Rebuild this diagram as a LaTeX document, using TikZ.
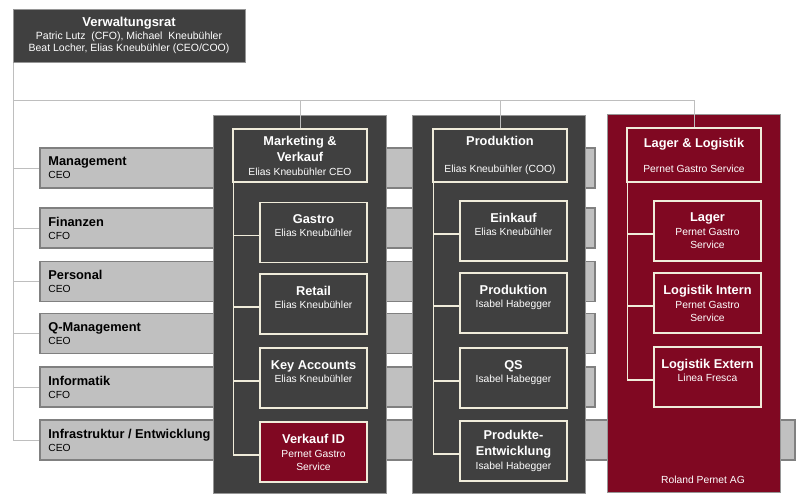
\documentclass[tikz,border=0pt]{standalone}
\usepackage{fontspec}
\setmainfont{Liberation Sans}
\definecolor{darkbox}{RGB}{64,64,64}
\definecolor{redbox}{RGB}{128,8,34}
\definecolor{cream}{RGB}{240,236,218}
\definecolor{barfill}{RGB}{192,192,192}
\definecolor{barline}{RGB}{128,128,128}
\definecolor{colline}{RGB}{150,150,150}
\definecolor{conn}{RGB}{190,190,190}
\newcommand\ttl[1]{{\fontsize{12.8}{15}\selectfont\bfseries #1}}
\begin{document}
\begin{tikzpicture}[x=1pt,y=-1pt,
 bar/.style={draw=barline, fill=barfill, line width=1.6pt, minimum height=40pt, inner sep=0pt},
 bartext/.style={anchor=west, align=left, inner sep=0pt, font=\fontsize{10.3}{13}\selectfont, text=black},
 column/.style={draw=colline, line width=1pt, inner sep=0pt},
 darkcol/.style={column, fill=darkbox},
 redcol/.style={column, fill=redbox},
 orgbox/.style={draw=cream, line width=1.6pt, inner sep=0pt, align=center, text=white, font=\fontsize{10.3}{13}\selectfont},
 head/.style={orgbox, fill=darkbox, minimum width=134pt, minimum height=53pt},
 sub/.style={orgbox, fill=darkbox, minimum width=107pt, minimum height=60pt},
 redhead/.style={head, fill=redbox},
 redsub/.style={sub, fill=redbox},
 connline/.style={draw=conn, line width=1pt},
 tree/.style={draw=cream, line width=1.4pt}
]
\useasboundingbox (0,0) rectangle (800,499);

% board
\node[fill=darkbox, draw=colline, line width=1pt, minimum width=232pt, minimum height=53pt, inner sep=0pt,
      align=center, text=white, font=\fontsize{10.5}{12.5}\selectfont] (vr) at (129,35.5)
 {{\fontsize{13}{15}\selectfont\bfseries Verwaltungsrat}\\Patric Lutz~ (CFO), Michael~ Kneubühler\\Beat Locher, Elias Kneubühler (CEO/COO)};

% staff bars
\node[bar, minimum width=555pt] (mgmt) at (317.5,168) {};
\node[bar, minimum width=555pt] (fin) at (317.5,228) {};
\node[bar, minimum width=555pt] (pers) at (317.5,281.5) {};
\node[bar, minimum width=555pt] (qm) at (317.5,333.5) {};
\node[bar, minimum width=555pt] (info) at (317.5,387) {};
\node[bar, minimum width=755pt] (infra) at (417.5,440) {};
\node[bartext] (mgmtL) at ([xshift=9pt]mgmt.west) {\ttl{Management}\\CEO};
\node[bartext] (finL) at ([xshift=9pt]fin.west) {\ttl{Finanzen}\\CFO};
\node[bartext] (persL) at ([xshift=9pt]pers.west) {\ttl{Personal}\\CEO};
\node[bartext] (qmL) at ([xshift=9pt]qm.west) {\ttl{Q-Management}\\CEO};
\node[bartext] (infoL) at ([xshift=9pt]info.west) {\ttl{Informatik}\\CFO};
\node[bartext] (infraL) at ([xshift=9pt]infra.west) {\ttl{Infrastruktur / Entwicklung}\\CEO};

% columns
\node[darkcol, minimum width=173pt, minimum height=378pt] (colmk) at (299.5,304) {};
\node[darkcol, minimum width=173pt, minimum height=378pt] (colpr) at (498.5,304) {};
\node[redcol, minimum width=173pt, minimum height=378pt] (collg) at (693.5,303) {};

% Marketing column
\node[head] (mk) at (300,155.5) {\ttl{Marketing \&}\\[3pt]\ttl{Verkauf}\\[1pt]Elias Kneubühler CEO};
\node[sub] (gastro) at (313.5,232.5) {\ttl{Gastro}\\Elias Kneubühler\\\mbox{}};
\node[sub] (retail) at (313.5,304) {\ttl{Retail}\\Elias Kneubühler\\\mbox{}};
\node[sub] (keyacc) at (313.5,378) {\ttl{Key Accounts}\\Elias Kneubühler\\\mbox{}};
\node[redsub] (vkid) at (313.5,452) {\ttl{Verkauf ID}\\[1pt]Pernet Gastro\\Service};

% Produktion column
\node[head] (pr) at (500,155.5) {\ttl{Produktion}\\[14pt]Elias Kneubühler (COO)};
\node[sub] (einkauf) at (513.5,231) {\ttl{Einkauf}\\Elias Kneubühler\\\mbox{}};
\node[sub] (prod) at (513.5,303) {\ttl{Produktion}\\Isabel Habegger\\\mbox{}};
\node[sub] (qs) at (513.5,378) {\ttl{QS}\\Isabel Habegger\\\mbox{}};
\node[sub] (pe) at (513.5,451) {\ttl{Produkte-}\\[3pt]\ttl{Entwicklung}\\[1pt]Isabel Habegger};

% Lager column
\node[redhead, minimum height=54pt] (lg) at (694,155) {\ttl{Lager \& Logistik}\\[12pt]Pernet Gastro Service};
\node[redsub] (lager) at (707.5,231) {\ttl{Lager}\\[1pt]Pernet Gastro\\Service};
\node[redsub] (lint) at (707.5,303) {\ttl{Logistik Intern}\\[1pt]Pernet Gastro\\Service};
\node[redsub] (lext) at (707.5,377) {\ttl{Logistik Extern}\\Linea Fresca\\\mbox{}};
\node[text=white, font=\fontsize{10.3}{13}\selectfont, inner sep=0pt] (rpag) at (703,480) {Roland Pernet AG};

% connectors from the board
\coordinate (trunk) at ([xshift=1pt]vr.south west);
\coordinate (hub) at (14,100);
\draw[connline] (trunk) -- (trunk |- infra.west) -- (infra.west);
\foreach \b in {mgmt,fin,pers,qm,info}
  \draw[connline] (trunk |- \b.west) -- (\b.west);
\draw[connline] (hub) -- (lg.north |- hub) -- (lg.north);
\draw[connline] (mk.north |- hub) -- (mk.north);
\draw[connline] (pr.north |- hub) -- (pr.north);

% trees inside the columns
\coordinate (mkt) at ([xshift=1pt]mk.south west);
\coordinate (prt) at ([xshift=1pt]pr.south west);
\coordinate (lgt) at ([xshift=1pt]lg.south west);
\foreach \b in {gastro,retail,keyacc,vkid,einkauf,prod,qs,pe,lager,lint,lext}
  \coordinate (\b B) at ([yshift=-3pt]\b.west);
\draw[tree] (mkt) -- (mkt |- vkidB) -- (vkidB);
\foreach \b in {gastro,retail,keyacc} \draw[tree] (mkt |- \b B) -- (\b B);
\draw[tree] (prt) -- (prt |- peB) -- (peB);
\foreach \b in {einkauf,prod,qs} \draw[tree] (prt |- \b B) -- (\b B);
\draw[tree] (lgt) -- (lgt |- lextB) -- (lextB);
\foreach \b in {lager,lint} \draw[tree] (lgt |- \b B) -- (\b B);
\end{tikzpicture}
\end{document}
